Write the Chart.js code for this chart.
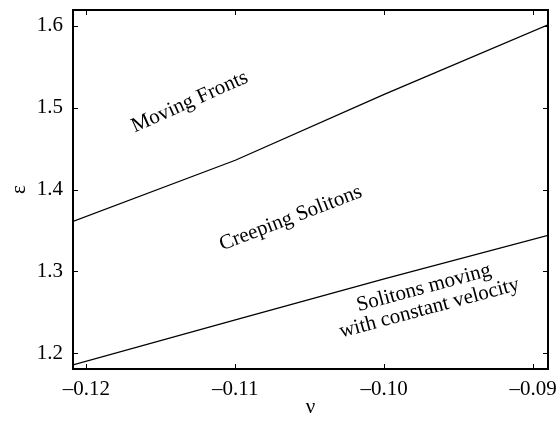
<!DOCTYPE html>
<html>
<head>
<meta charset="utf-8">
<script src="https://cdn.jsdelivr.net/npm/chart.js@4/dist/chart.umd.min.js"></script>
<style>
	body { margin: 0; background: #ffffff; }
	canvas { display: block; }
</style>
</head>
<body>
<canvas id="phase" width="560" height="422"></canvas>
<script>
// values
const nu = [-0.1209, -0.11, -0.10, -0.089];
const frontBoundary = [1.361, 1.4357, 1.516, 1.601]; // upper curve
const solitonBoundary = [1.186, 1.241, 1.291, 1.344]; // lower curve
const xTicks = [-0.12, -0.11, -0.10, -0.09];
const yTicks = [1.2, 1.3, 1.4, 1.5, 1.6];
const xRange = [-0.1209, -0.089];
const yRange = [1.181, 1.619];

// region labels, placed in data coordinates
const regionLabels = [
	{ lines: ["Moving Fronts"], x: -0.11306, y: 1.5067, angle: -24 },
	{ lines: ["Creeping Solitons"], x: -0.10628, y: 1.3648, angle: -21 },
	{ lines: ["Solitons moving", "with constant velocity"], x: -0.09715, y: 1.2675, angle: -15 },
];

const serif = "'Liberation Serif', 'Times New Roman', serif";

function toPoints(xs, ys) {
	return xs.map((x, i) => ({ x: x, y: ys[i] }));
}

function dash(str) {
	return str.replace("-", "\u2013");
}

// frame, inward ticks on all four sides, and the region labels
const framePlugin = {
	id: "frame",
	afterDraw(chart) {
		const ctx = chart.ctx;
		const area = chart.chartArea;
		const xs = chart.scales.x;
		const ys = chart.scales.y;
		const tl = 5;
		ctx.save();
		ctx.strokeStyle = "#000";
		ctx.lineWidth = 1;
		ctx.beginPath();
		xTicks.forEach((v) => {
			const px = Math.round(xs.getPixelForValue(v)) + 0.5;
			ctx.moveTo(px, area.bottom);
			ctx.lineTo(px, area.bottom - tl);
			ctx.moveTo(px, area.top);
			ctx.lineTo(px, area.top + tl);
		});
		yTicks.forEach((v) => {
			const py = Math.round(ys.getPixelForValue(v)) + 0.5;
			ctx.moveTo(area.left, py);
			ctx.lineTo(area.left + tl, py);
			ctx.moveTo(area.right, py);
			ctx.lineTo(area.right - tl, py);
		});
		ctx.stroke();
		ctx.lineWidth = 2;
		ctx.strokeRect(area.left, area.top, area.right - area.left, area.bottom - area.top);

		// labels
		ctx.fillStyle = "#000";
		ctx.font = "21px " + serif;
		ctx.textAlign = "center";
		ctx.textBaseline = "middle";
		regionLabels.forEach((lab) => {
			const px = xs.getPixelForValue(lab.x);
			const py = ys.getPixelForValue(lab.y);
			ctx.save();
			ctx.translate(px, py);
			ctx.rotate((lab.angle * Math.PI) / 180);
			const n = lab.lines.length;
			lab.lines.forEach((line, i) => {
				ctx.fillText(line, 0, (i - (n - 1) / 2) * 21);
			});
			ctx.restore();
		});
		ctx.restore();
	},
};

const ctx = document.getElementById("phase");
new Chart(ctx, {
	type: "scatter",
	data: {
		datasets: [
			{
				label: "fronts",
				data: toPoints(nu, frontBoundary),
				showLine: true,
				borderColor: "#000",
				borderWidth: 1.3,
				pointRadius: 0,
				tension: 0,
			},
			{
				label: "solitons",
				data: toPoints(nu, solitonBoundary),
				showLine: true,
				borderColor: "#000",
				borderWidth: 1.3,
				pointRadius: 0,
				tension: 0,
			},
		],
	},
	options: {
		responsive: false,
		animation: false,
		devicePixelRatio: 1,
		layout: {
			padding: { top: 10, right: 12, left: 0, bottom: 0 },
		},
		plugins: {
			legend: { display: false },
			tooltip: { enabled: false },
		},
		scales: {
			x: {
				type: "linear",
				min: xRange[0],
				max: xRange[1],
				afterBuildTicks: (scale) => {
					scale.ticks = xTicks.map((v) => ({ value: v }));
				},
				afterFit: (scale) => {
					scale.height = 53;
					scale.paddingLeft = 0;
					scale.paddingRight = 0;
				},
				grid: { display: false, drawTicks: false },
				border: { display: false },
				ticks: {
					padding: 8,
					color: "#000",
					maxRotation: 0,
					font: { family: serif, size: 21 },
					callback: (v) => dash(Number(v).toFixed(2)),
				},
				title: {
					display: true,
					text: "\u03bd",
					color: "#000",
					font: { family: serif, size: 21 },
					padding: { top: 0, bottom: 2 },
				},
			},
			y: {
				type: "linear",
				min: yRange[0],
				max: yRange[1],
				afterBuildTicks: (scale) => {
					scale.ticks = yTicks.map((v) => ({ value: v }));
				},
				afterFit: (scale) => {
					scale.width = 73;
					scale.paddingTop = 0;
					scale.paddingBottom = 0;
				},
				grid: { display: false, drawTicks: false },
				border: { display: false },
				ticks: {
					padding: 10,
					color: "#000",
					font: { family: serif, size: 21 },
					callback: (v) => Number(v).toFixed(1),
				},
				title: {
					display: true,
					text: "\u03b5",
					color: "#000",
					font: { family: serif, size: 21 },
					padding: { top: 7, bottom: 0 },
				},
			},
		},
	},
	plugins: [framePlugin],
});
</script>
</body>
</html>
